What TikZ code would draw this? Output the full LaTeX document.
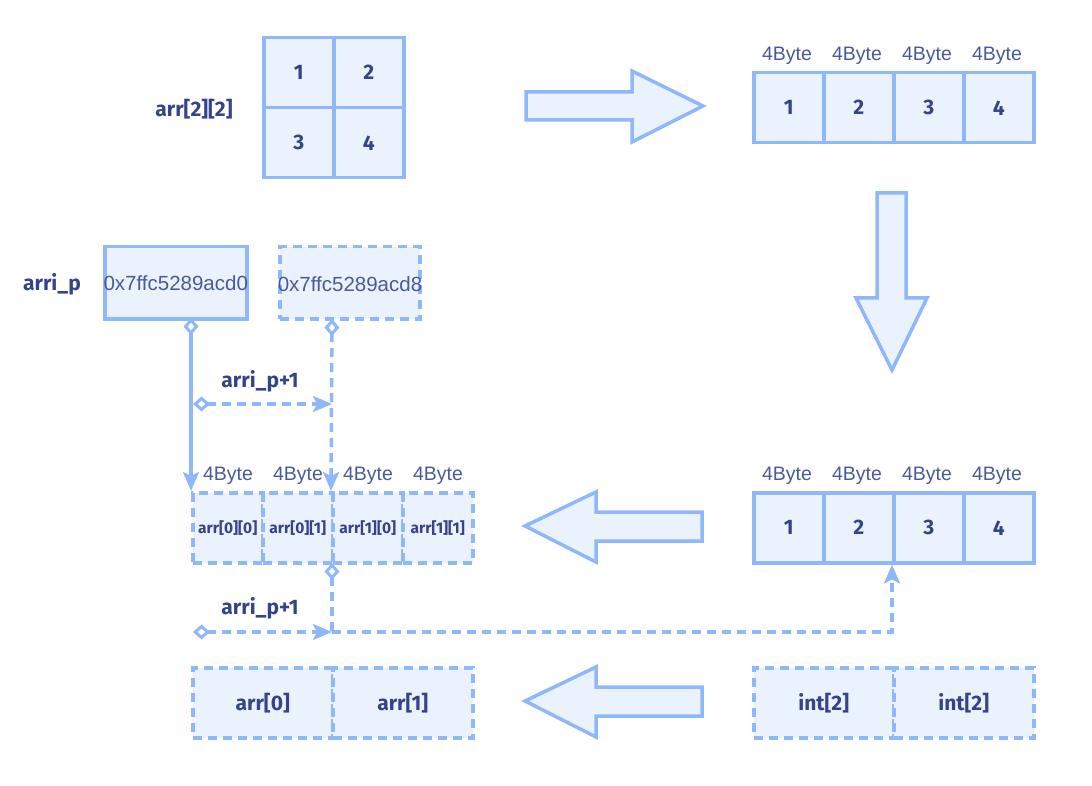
\documentclass[tikz,border=0pt]{standalone}
\usepackage{fontspec}
\setmainfont{Liberation Sans}
\newfontfamily\lblfont{Fira Sans}
\usetikzlibrary{arrows.meta}
\definecolor{stroke}{HTML}{8FB8FA}
\definecolor{fillc}{HTML}{EAF2FE}
\definecolor{txt}{HTML}{34438A}
\definecolor{hextxt}{HTML}{4A5A98}
\tikzset{
  cell/.style={draw=stroke, fill=fillc, line width=3.5pt, minimum width=70pt, minimum height=70pt,
    inner sep=0pt, anchor=north west, text=txt, font=\lblfont\bfseries\fontsize{21}{24}\selectfont},
  dsh/.style={dash pattern=on 9pt off 6pt},
  dcell/.style={cell, dsh},
  wcell/.style={cell, minimum width=140pt},
  dwcell/.style={wcell, dsh},
  scell/.style={dcell, font=\lblfont\bfseries\fontsize{15.5}{18}\selectfont},
  bytelbl/.style={text=hextxt, font=\fontsize{19.5}{22}\selectfont, inner sep=0pt},
  lbl/.style={text=txt, font=\lblfont\bfseries\fontsize{21}{24}\selectfont, inner sep=0pt},
  hexbox/.style={draw=stroke, fill=fillc, line width=3.5pt, anchor=north west, inner sep=0pt, minimum height=72pt},
  hextext/.style={text=hextxt, font=\fontsize{20.5}{22}\selectfont, inner sep=0pt},
  bigarrow/.style={draw=stroke, fill=fillc, line width=3.5pt, line join=miter},
  conn/.style={draw=stroke, line width=3.5pt, {Diamond[open,length=17pt,width=15pt,line width=3pt]}-{Stealth[length=19pt,width=16pt,inset=4pt]}},
  connline/.style={draw=stroke, line width=3.5pt, {Diamond[open,length=17pt,width=15pt,line width=3pt]}-},
  connend/.style={draw=stroke, line width=3.5pt, -{Stealth[length=19pt,width=16pt,inset=4pt]}},
}
\begin{document}
\begin{tikzpicture}[x=1pt,y=-1pt]
\useasboundingbox (0,0) rectangle (1092,786);

% 2x2 grid
\node[lbl] (arrlbl) at (194,109) {arr[2][2]};
\node[cell] (g1) at (262,36) {1};
\node[cell] (g2) at (332,36) {2};
\node[cell] (g3) at (262,106) {3};
\node[cell] (g4) at (332,106) {4};

% right arrow
\path[bigarrow] (526,92) -- (632,92) -- (632,71) -- (703,106) -- (632,142) -- (632,120) -- (526,120) -- cycle;

% top right row
\foreach \i/\x in {1/752,2/822,3/892,4/962} {
  \node[cell] (t\i) at (\x,71) {\i};
  \node[bytelbl] (tb\i) at (\x+35,56) {4Byte};
}

% down arrow
\path[bigarrow] (877,193) -- (906,193) -- (906,298) -- (927,298) -- (892,370) -- (856,298) -- (877,298) -- cycle;

% middle right row
\foreach \i/\x in {1/752,2/822,3/892,4/962} {
  \node[cell] (m\i) at (\x,491) {\i};
  \node[bytelbl] (mb\i) at (\x+35,476) {4Byte};
}

% middle left arrow
\path[bigarrow] (702,512) -- (596,512) -- (596,492) -- (525,526) -- (596,562) -- (596,541) -- (702,541) -- cycle;

% small cells
\node[scell] (c00) at (191,491) {arr[0][0]};
\node[scell] (c01) at (261,491) {arr[0][1]};
\node[scell] (c10) at (331,491) {arr[1][0]};
\node[scell] (c11) at (401,491) {arr[1][1]};
\foreach \i/\x in {1/191,2/261,3/331,4/401} {
  \node[bytelbl] (sb\i) at (\x+37,476) {4Byte};
}

% pointer boxes
\node[lbl] (arrip) at (52,284) {arri\_p};
\node[hexbox, minimum width=142pt] (h0) at (103,245) {};
\node[hextext] (h0t) at (h0.center) {0x7ffc5289acd0};
\node[hexbox, dsh, minimum width=140pt] (h1) at (278,245) {};
\node[hextext] (h1t) at (350,284) {0x7ffc5289acd8};

% connectors
\coordinate (p0) at (191,318);
\coordinate (p1) at (332,319);
\coordinate (q0) at (193,404);
\coordinate (q1) at (332,404);
\coordinate (r0) at (332,563);
\coordinate (r1) at (332,632);
\coordinate (s0) at (193,632);
\coordinate (u1) at (892,632);

\draw[conn] (p0) -- (c00.north west);
\draw[conn, dsh] (p1) -- (c10.north west);
\draw[conn, dsh] (q0) -- (q1);
\node[lbl] (l1) at (260,381) {arri\_p+1};

\draw[connline, dsh] (r0) -- (r1);
\draw[conn, dsh] (s0) -- (r1);
\draw[connend, dsh] (r1) -- (u1) -- (m3.south west);
\node[lbl] (l2) at (260,608) {arri\_p+1};

% bottom row
\node[dwcell] (a0) at (191,666) {arr[0]};
\node[dwcell] (a1) at (331,666) {arr[1]};
\path[bigarrow] (702,687) -- (596,687) -- (596,667) -- (525,701) -- (596,737) -- (596,716) -- (702,716) -- cycle;
\node[dwcell] (i0) at (752,666) {int[2]};
\node[dwcell] (i1) at (892,666) {int[2]};
\end{tikzpicture}
\end{document}
